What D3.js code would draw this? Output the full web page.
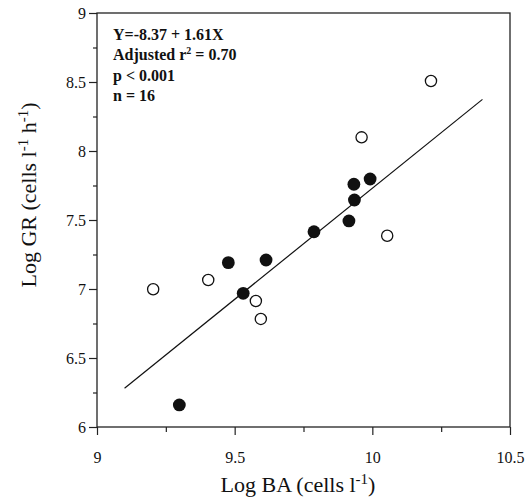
<!DOCTYPE html>
<html>
<head>
<meta charset="utf-8">
<script src="https://cdn.jsdelivr.net/npm/d3@7"></script>
<style>
  html, body { margin: 0; padding: 0; background: #fff; }
  svg { display: block; }
</style>
</head>
<body>
<svg id="chart" width="526" height="504"></svg>
<script>
// ---- data ----
const filledX = [9.933, 9.992, 9.935, 9.915, 9.788, 9.614, 9.477, 9.531, 9.299];
const filledY = [7.759, 7.797, 7.645, 7.493, 7.415, 7.210, 7.191, 6.969, 6.160];
const openX = [10.054, 9.404, 9.204, 9.577, 9.595, 10.213, 9.961];
const openY = [7.386, 7.065, 6.998, 6.913, 6.783, 8.507, 8.099];
const fitIntercept = -8.37;
const fitSlope = 1.61;
const fitRange = [9.1, 10.4];
const xMajorTicks = [9, 9.5, 10, 10.5];
const xMinorTicks = [9.25, 9.75, 10.25];
const xTickLabels = ["9", "9.5", "10", "10.5"];
const yMajorTicks = [6, 6.5, 7, 7.5, 8, 8.5, 9];
const yMinorTicks = [6.25, 6.75, 7.25, 7.75, 8.25, 8.75];
const yTickLabels = ["6", "6.5", "7", "7.5", "8", "8.5", "9"];
const annotationLines = ["Y=-8.37 + 1.61X", "Adjusted r", "p < 0.001", "n = 16"];

const FONT = '"Liberation Serif", "Times New Roman", serif';

// ---- layout ----
const L = 97, R = 510, T = 13, B = 427;
const svg = d3.select("#chart");
const x = d3.scaleLinear().domain([9, 10.5]).range([L, R]);
const y = d3.scaleLinear().domain([6, 9]).range([B, T]);

// frame
svg.append("rect").attr("x", L).attr("y", T).attr("width", R - L).attr("height", B - T)
  .attr("fill", "none").attr("stroke", "#222").attr("stroke-width", 1.3);

// axes
const xAxis = d3.axisBottom(x).tickValues(xMajorTicks).tickSize(8).tickPadding(17)
  .tickFormat((d, i) => xTickLabels[i]);
const gx = svg.append("g").attr("transform", `translate(0,${B})`).call(xAxis);
const gxm = svg.append("g").attr("transform", `translate(0,${B})`)
  .call(d3.axisBottom(x).tickValues(xMinorTicks).tickSize(5).tickFormat(""));

const yAxis = d3.axisLeft(y).tickValues(yMajorTicks).tickSize(8).tickPadding(3)
  .tickFormat((d, i) => yTickLabels[i]);
const gy = svg.append("g").attr("transform", `translate(${L},0)`).call(yAxis);
const gym = svg.append("g").attr("transform", `translate(${L},0)`)
  .call(d3.axisLeft(y).tickValues(yMinorTicks).tickSize(4).tickFormat(""));

[gx, gxm, gy, gym].forEach(g => {
  g.attr("font-family", null);
  g.select(".domain").remove();
  g.selectAll("line").attr("stroke", "#222").attr("stroke-width", 1.2);
  g.selectAll("text").style("font-family", FONT)
    .style("font-size", "16px").attr("fill", "#111");
});

// regression line
svg.append("line")
  .attr("x1", x(fitRange[0])).attr("y1", y(fitIntercept + fitSlope * fitRange[0]))
  .attr("x2", x(fitRange[1])).attr("y2", y(fitIntercept + fitSlope * fitRange[1]))
  .attr("stroke", "#111").attr("stroke-width", 1.2);

// points
svg.append("g").selectAll("circle").data(openX.map((d, i) => [d, openY[i]]))
  .join("circle").attr("cx", d => x(d[0])).attr("cy", d => y(d[1])).attr("r", 5.6)
  .attr("fill", "#fff").attr("stroke", "#111").attr("stroke-width", 1.3);
svg.append("g").selectAll("circle").data(filledX.map((d, i) => [d, filledY[i]]))
  .join("circle").attr("cx", d => x(d[0])).attr("cy", d => y(d[1])).attr("r", 6.4)
  .attr("fill", "#111");

// annotation
const ann = svg.append("g").style("font-family", FONT).style("font-weight", "bold")
  .style("font-size", "16px").attr("fill", "#111");
const baselines = [39.5, 60, 80.5, 101];
annotationLines.forEach((t, i) => {
  const tx = ann.append("text").attr("x", 113).attr("y", baselines[i]).text(t);
  if (i === 1) {
    tx.append("tspan").style("font-size", "10px").attr("dy", -6).text("2");
    tx.append("tspan").attr("dy", 6).text(" = 0.70");
  }
});

// x axis title
const xt = svg.append("text").attr("x", 298).attr("y", 492).attr("text-anchor", "middle")
  .style("font-family", FONT).style("font-size", "22px").attr("fill", "#111");
xt.append("tspan").text("Log BA (cells l");
xt.append("tspan").style("font-size", "15px").attr("dy", -8).text("-1");
xt.append("tspan").attr("dy", 8).text(")");

// y axis title
const yt = svg.append("text").attr("transform", "translate(36,195) rotate(-90)")
  .attr("text-anchor", "middle").style("font-family", FONT).style("font-size", "22px")
  .attr("fill", "#111");
yt.append("tspan").text("Log GR (cells l");
yt.append("tspan").style("font-size", "15px").attr("dy", -8).text("-1");
yt.append("tspan").attr("dy", 8).text(" h");
yt.append("tspan").style("font-size", "15px").attr("dy", -8).text("-1");
yt.append("tspan").attr("dy", 8).text(")");
</script>
</body>
</html>
